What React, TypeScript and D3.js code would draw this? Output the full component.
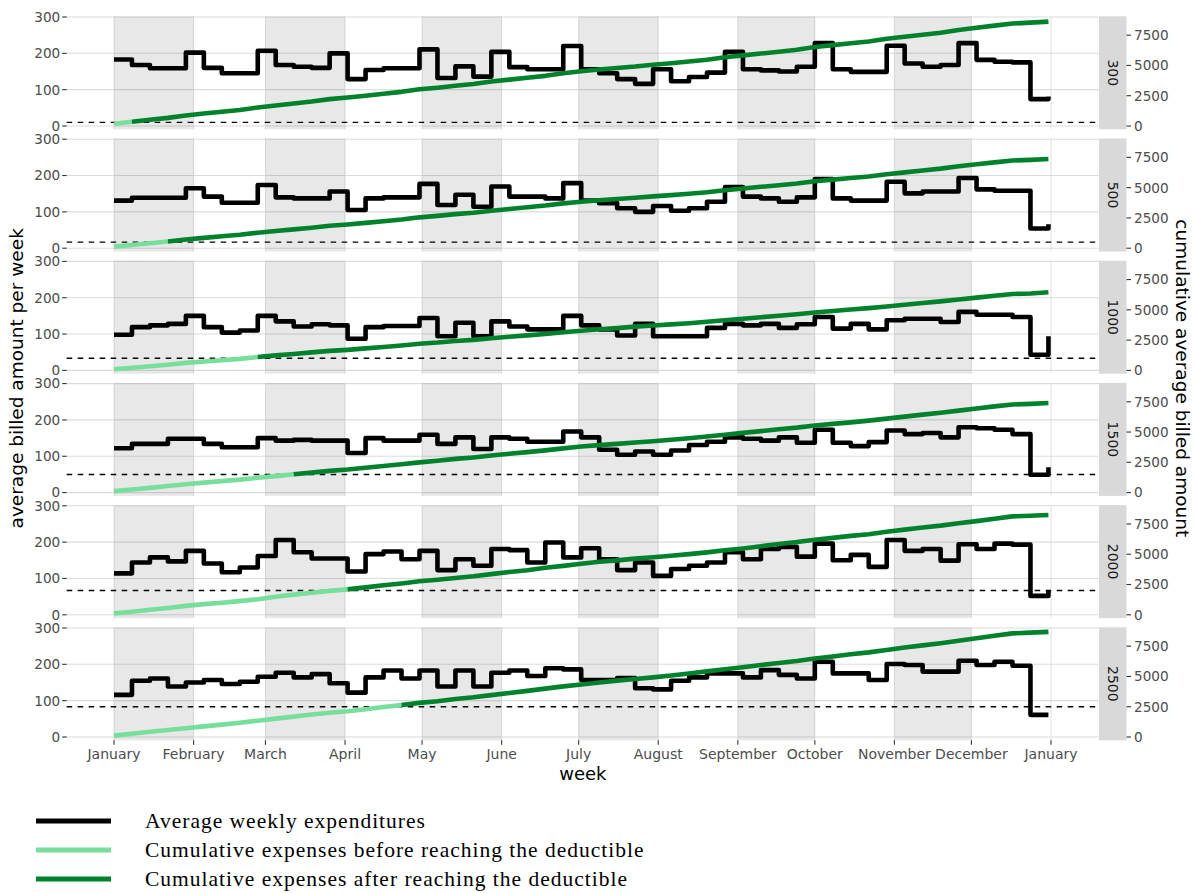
import React from "react";
import * as d3 from "d3";

// ---------- data ----------
const deductibles = [300, 500, 1000, 1500, 2000, 2500];

const weekly300 = [183,168,159,159,202,160,145,145,207,168,163,160,200,129,154,159,159,211,132,164,136,204,162,156,156,220,156,145,129,116,156,123,135,147,204,156,153,150,163,228,156,149,149,221,172,163,168,228,182,177,175,74,81];
const weekly500 = [131,139,139,139,165,142,125,125,174,140,137,137,156,105,137,140,140,177,119,147,114,170,142,142,137,179,131,124,110,100,116,103,110,128,168,142,137,128,140,190,137,131,131,183,151,156,156,193,162,158,158,54,66];
const weekly1000 = [98,119,124,128,150,119,104,110,150,135,121,127,124,87,119,122,122,144,94,131,94,135,121,113,113,150,124,113,96,128,94,94,94,117,128,124,128,117,127,147,115,128,113,138,142,142,133,161,153,153,147,43,94];
const weekly1500 = [122,134,134,148,148,134,125,125,150,143,145,143,143,109,150,143,143,159,134,152,120,152,148,140,140,168,152,118,104,113,104,116,131,140,152,148,143,152,137,173,137,128,139,171,161,164,152,180,177,173,161,49,70];
const weekly2000 = [114,144,158,147,176,141,117,130,162,206,172,155,155,119,167,174,153,176,123,153,135,181,178,144,199,158,183,153,123,144,107,126,135,144,172,153,181,187,160,196,150,165,132,206,176,181,149,194,181,196,193,52,66];
const weekly2500 = [116,155,161,139,150,157,146,152,166,177,164,173,148,122,164,183,161,183,139,183,139,177,183,168,189,186,157,157,162,134,131,155,164,175,175,164,184,171,161,207,175,175,157,201,198,180,180,210,198,207,196,61,61];

const monthLabels = ["January","February","March","April","May","June","July","August","September","October","November","December","January"];
const leftTicks = [0, 100, 200, 300];
const rightTicks = [0, 2500, 5000, 7500];
const secondaryFactor = 30;

const legendLabels = [
  "Average weekly expenditures",
  "Cumulative expenses before reaching the deductible",
  "Cumulative expenses after reaching the deductible",
];

const leftTitle = "average billed amount per week";
const rightTitle = "cumulative average billed amount";
const xTitle = "week";

// ---------- style ----------
const C_BLACK = "#000000";
const C_LIGHT = "#78DE9B";
const C_DARK = "#00822C";
const C_GRID = "#dcdcdc";
const C_BAND = "rgba(0,0,0,0.09)";
const C_STRIP = "#d9d9d9";
const C_AXIS_TEXT = "#4d4d4d";
const FONT = "DejaVu Sans, Verdana, sans-serif";

export default function App() {
  const W = 1194, H = 893;
  const start = new Date(Date.UTC(2019, 0, 1));
  const end = new Date(Date.UTC(2020, 0, 1));
  const x = d3.scaleUtc().domain([start, end]).range([114, 1051]);
  const monthStarts = d3.utcMonth.range(start, d3.utcDay.offset(end, 1));
  const weeks = d3.range(53).map((k) => d3.utcDay.offset(start, 7 * k));

  const PL = 66.7, PR = 1099, PH = 113, PSTEP = 122.2, PTOP = 16.3;
  const STRIP_W = 27.5;
  const series = [weekly300, weekly500, weekly1000, weekly1500, weekly2000, weekly2500];

  const bandMonths = [0, 2, 4, 6, 8, 10];

  const panels = series.map((vals, i) => {
    const top = PTOP + PSTEP * i;
    const y = d3.scaleLinear().domain([-9.1, 301.9]).range([top + PH, top]);
    const yR = d3.scaleLinear().domain([-9.1 * secondaryFactor, 301.9 * secondaryFactor]).range([top + PH, top]);
    const ded = deductibles[i];
    const cum = Array.from(d3.cumsum(vals));
    const j = cum.findIndex((c) => c >= ded);
    const pts = weeks.map((d, k) => [x(d), yR(cum[k])] as [number, number]);
    const lineGen = d3.line();
    const lightPath = lineGen(pts.slice(0, j + 1)) || "";
    const darkPath = lineGen(pts.slice(j)) || "";
    const stepGen = d3
      .line<number>()
      .x((_, k) => x(weeks[k]))
      .y((v) => y(v))
      .curve(d3.curveStepAfter);
    const stepPath = stepGen(vals) || "";
    const dedY = yR(ded);

    return (
      <g key={i}>
        {leftTicks.map((t) => (
          <line key={"h" + t} x1={PL} x2={PR} y1={y(t)} y2={y(t)} stroke={C_GRID} strokeWidth={1.1} />
        ))}
        {monthStarts.map((m, k) => (
          <line key={"v" + k} x1={x(m)} x2={x(m)} y1={top} y2={top + PH} stroke={C_GRID} strokeWidth={0.9} />
        ))}
        {bandMonths.map((mi) => (
          <rect
            key={"b" + mi}
            x={x(monthStarts[mi])}
            y={top}
            width={x(monthStarts[mi + 1]) - x(monthStarts[mi])}
            height={PH}
            fill={C_BAND}
          />
        ))}
        <line x1={PL} x2={PR} y1={dedY} y2={dedY} stroke="#000" strokeWidth={1.4} strokeDasharray="5.5 5.5" />
        <path d={stepPath} fill="none" stroke={C_BLACK} strokeWidth={4.6} strokeLinejoin="round" />
        <path d={lightPath} fill="none" stroke={C_LIGHT} strokeWidth={4.6} strokeLinejoin="round" />
        <path d={darkPath} fill="none" stroke={C_DARK} strokeWidth={4.6} strokeLinejoin="round" />
        <rect x={PR} y={top} width={STRIP_W} height={PH} fill={C_STRIP} />
        <text
          transform={`translate(${PR + STRIP_W / 2},${top + PH / 2}) rotate(90)`}
          textAnchor="middle"
          dominantBaseline="central"
          fontFamily={FONT}
          fontSize={14}
          fill="#1a1a1a"
        >
          {String(ded)}
        </text>
        {leftTicks.map((t) => (
          <g key={"la" + t}>
            <line x1={PL - 4.5} x2={PL} y1={y(t)} y2={y(t)} stroke="#333" strokeWidth={1.1} />
            <text x={PL - 6.5} y={y(t)} dy="0.36em" textAnchor="end" fontFamily={FONT} fontSize={13.6} fill={C_AXIS_TEXT}>
              {t}
            </text>
          </g>
        ))}
        {rightTicks.map((t) => (
          <g key={"ra" + t}>
            <line x1={PR + STRIP_W} x2={PR + STRIP_W + 4.5} y1={yR(t)} y2={yR(t)} stroke="#333" strokeWidth={1.1} />
            <text x={PR + STRIP_W + 7.5} y={yR(t)} dy="0.36em" textAnchor="start" fontFamily={FONT} fontSize={13.6} fill={C_AXIS_TEXT}>
              {t}
            </text>
          </g>
        ))}
      </g>
    );
  });

  const bottom = PTOP + PSTEP * 5 + PH;
  const midY = (PTOP + bottom) / 2;

  const legendY = [821, 850, 879];
  const legendColors = [C_BLACK, C_LIGHT, C_DARK];

  return (
    <svg
      width={W}
      height={H}
      viewBox={`0 0 ${W} ${H}`}
      style={{ position: "absolute", left: 0, top: 0, background: "#fff" }}
    >
      <rect x={0} y={0} width={W} height={H} fill="#fff" />
      {panels}
      {monthStarts.map((m, k) => (
        <g key={"xa" + k}>
          <line x1={x(m)} x2={x(m)} y1={bottom} y2={bottom + 4.5} stroke="#333" strokeWidth={1.1} />
          <text x={x(m)} y={bottom + 18.5} textAnchor="middle" fontFamily={FONT} fontSize={14} fill={C_AXIS_TEXT}>
            {monthLabels[k]}
          </text>
        </g>
      ))}
      <text x={(PL + PR) / 2} y={780} textAnchor="middle" fontFamily={FONT} fontSize={18} fill="#000">
        {xTitle}
      </text>
      <text
        transform={`translate(16,${midY}) rotate(-90)`}
        textAnchor="middle"
        dominantBaseline="central"
        fontFamily={FONT}
        fontSize={18.5}
        fill="#000"
      >
        {leftTitle}
      </text>
      <text
        transform={`translate(1182.5,${midY}) rotate(90)`}
        textAnchor="middle"
        dominantBaseline="central"
        fontFamily={FONT}
        fontSize={18.5}
        fill="#000"
      >
        {rightTitle}
      </text>
      {legendLabels.map((lab, k) => (
        <g key={"lg" + k}>
          <line x1={36} x2={111} y1={legendY[k]} y2={legendY[k]} stroke={legendColors[k]} strokeWidth={5} />
          <text
            x={145}
            y={legendY[k] + 7}
            fontFamily="Liberation Serif, Times New Roman, serif"
            fontSize={21.5}
            letterSpacing={1.0}
            fill="#000"
          >
            {lab}
          </text>
        </g>
      ))}
    </svg>
  );
}
